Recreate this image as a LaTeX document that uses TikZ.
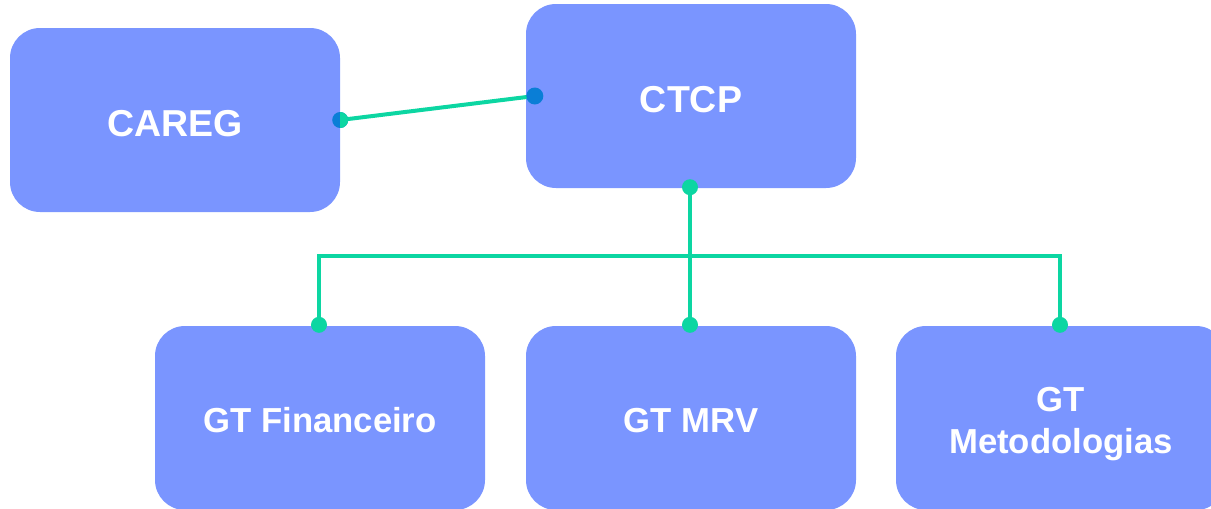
\documentclass[tikz,border=0pt]{standalone}
\usepackage{fontspec}
\setmainfont{Liberation Sans}
\definecolor{boxc}{HTML}{7A95FF}
\definecolor{tealc}{HTML}{0CD6A2}
\definecolor{bluec}{HTML}{0A7ED6}
\begin{document}
\begin{tikzpicture}[x=1pt,y=-1pt,
  box/.style={fill=boxc, draw=none, rounded corners=30pt, minimum width=330pt, minimum height=184pt, inner sep=0pt, text=white, font=\bfseries\fontsize{34.7}{42}\selectfont, align=center, text height=28.5pt, text depth=0pt},
  bigbox/.style={box, font=\bfseries\fontsize{37.5}{42}\selectfont, text height=32pt},
  wire/.style={draw=tealc, line width=4pt},
  dot/.style={fill=tealc}]
\useasboundingbox (0,0) rectangle (1211,509);
\clip (0,0) rectangle (1211,509);
\node[bigbox] (careg) at (175,120) {CAREG};
\node[bigbox] (ctcp) at (691,96) {CTCP};
\node[box] (fin) at (320,418) {GT Financeiro};
\node[box] (mrv) at (691,418) {GT MRV};
\node[box, text height=70.5pt] (met) at (1061,418) {GT\\Metodologias};
\coordinate (cin) at ([xshift=9pt]ctcp.west);
\coordinate (ctb) at ([xshift=-1pt,yshift=1pt]ctcp.south);
\coordinate (fint) at ([xshift=-1pt,yshift=1pt]fin.north);
\coordinate (mrvt) at ([xshift=-1pt,yshift=1pt]mrv.north);
\coordinate (mett) at ([xshift=-1pt,yshift=1pt]met.north);
\coordinate (hl) at (319,256);
\coordinate (hr) at (1060,256);
% CAREG - CTCP
\draw[wire] (careg.east) -- (cin);
\fill[bluec] (cin) circle (8.5pt);
\fill[bluec] (careg.east) circle (8pt);
\begin{scope}
\clip (340,100) rectangle (360,140);
\fill[tealc] (careg.east) circle (8pt);
\end{scope}
% tree
\draw[wire] (ctb) -- (mrvt);
\draw[wire] (fint) -- (fint |- hl) -- (mett |- hr) -- (mett);
\fill[dot] (ctb) circle (8pt);
\fill[dot] (fint) circle (8pt);
\fill[dot] (mrvt) circle (8pt);
\fill[dot] (mett) circle (8pt);
\end{tikzpicture}
\end{document}
